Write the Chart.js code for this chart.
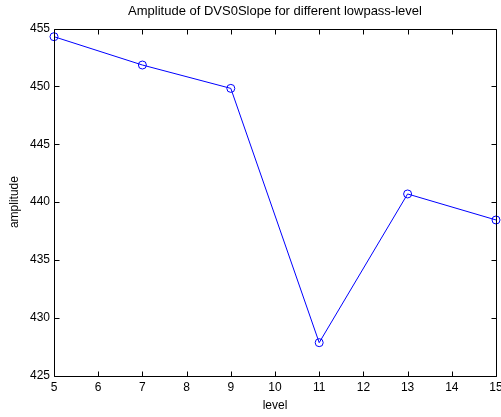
<!DOCTYPE html>
<html lang="en">

<head>
    <meta charset="UTF-8">
    <title>Amplitude of DVS0Slope</title>
    <script src="https://cdn.jsdelivr.net/npm/chart.js"></script>
    <style>
        body { margin: 0; background: #fff; }
        canvas { display: block; }
    </style>
</head>

<body>
    <canvas id="ampChart" width="501" height="417"></canvas>
    <script>
        // lowpass levels and measured amplitude
        const levels = [5, 7, 9, 11, 13, 15];
        const amplitude = [454.3, 451.85, 449.83, 427.84, 440.7, 438.45];
        const xTicks = [5, 6, 7, 8, 9, 10, 11, 12, 13, 14, 15];
        const yTicks = [425, 430, 435, 440, 445, 450, 455];

        const FONT = 'Liberation Sans, Arial, Helvetica, sans-serif';

        // matlab-like box with ticks pointing inwards on all four sides
        const boxTicks = {
            id: 'boxTicks',
            afterDraw(chart) {
                const ctx = chart.ctx;
                const a = chart.chartArea;
                const xs = chart.scales.x;
                const ys = chart.scales.y;
                const len = 5;
                ctx.save();
                ctx.strokeStyle = '#000';
                ctx.lineWidth = 1;
                const l = Math.round(a.left) + 0.5, r = Math.round(a.right) + 0.5;
                const t = Math.round(a.top) + 0.5, b = Math.round(a.bottom) + 0.5;
                ctx.beginPath();
                ctx.rect(l, t, r - l, b - t);
                xTicks.forEach(v => {
                    const px = Math.round(xs.getPixelForValue(v)) + 0.5;
                    ctx.moveTo(px, b); ctx.lineTo(px, b - len);
                    ctx.moveTo(px, t); ctx.lineTo(px, t + len);
                });
                yTicks.forEach(v => {
                    const py = Math.round(ys.getPixelForValue(v)) + 0.5;
                    ctx.moveTo(l, py); ctx.lineTo(l + len, py);
                    ctx.moveTo(r, py); ctx.lineTo(r - len, py);
                });
                ctx.stroke();
                ctx.restore();
            }
        };

        const whiteBg = {
            id: 'whiteBg',
            beforeDraw(chart) {
                const ctx = chart.ctx;
                ctx.save();
                ctx.fillStyle = '#fff';
                ctx.fillRect(0, 0, chart.width, chart.height);
                ctx.restore();
            }
        };

        new Chart(document.getElementById('ampChart'), {
            type: 'line',
            data: {
                datasets: [{
                    data: levels.map((lv, i) => ({ x: lv, y: amplitude[i] })),
                    borderColor: 'rgb(0, 0, 255)',
                    borderWidth: 1,
                    pointStyle: 'circle',
                    pointRadius: 4,
                    pointBorderWidth: 1,
                    pointBorderColor: 'rgb(0, 0, 255)',
                    pointBackgroundColor: 'rgba(0,0,0,0)',
                    tension: 0,
                    fill: false,
                    clip: false
                }]
            },
            options: {
                responsive: false,
                animation: false,
                events: [],
                layout: { padding: { top: 0, right: 5, bottom: 0, left: 0 } },
                plugins: {
                    legend: { display: false },
                    tooltip: { enabled: false },
                    title: {
                        display: true,
                        fullSize: false,
                        text: 'Amplitude of DVS0Slope for different lowpass-level',
                        color: '#000',
                        font: { family: FONT, size: 13, weight: 'normal' },
                        padding: { top: 4, bottom: 9 }
                    }
                },
                scales: {
                    x: {
                        type: 'linear',
                        min: 5,
                        max: 15,
                        afterBuildTicks: s => { s.ticks = xTicks.map(v => ({ value: v })); },
                        afterFit: s => { s.height = 41.5; s.paddingLeft = 0; s.paddingRight = 0; },
                        grid: { display: false, drawTicks: false },
                        border: { display: false },
                        ticks: {
                            color: '#000',
                            padding: 5,
                            maxRotation: 0,
                            font: { family: FONT, size: 12 }
                        },
                        title: {
                            display: true,
                            text: 'level',
                            color: '#000',
                            font: { family: FONT, size: 12 },
                            padding: { top: 0, bottom: 4 }
                        }
                    },
                    y: {
                        type: 'linear',
                        min: 425,
                        max: 455,
                        afterBuildTicks: s => { s.ticks = yTicks.map(v => ({ value: v })); },
                        afterFit: s => { s.width = 54; },
                        grid: { display: false, drawTicks: false },
                        border: { display: false },
                        ticks: {
                            color: '#000',
                            padding: 4,
                            font: { family: FONT, size: 12 }
                        },
                        title: {
                            display: true,
                            text: 'amplitude',
                            color: '#000',
                            font: { family: FONT, size: 12 },
                            padding: { top: 7, bottom: 0 }
                        }
                    }
                }
            },
            plugins: [whiteBg, boxTicks]
        });
    </script>
</body>

</html>
